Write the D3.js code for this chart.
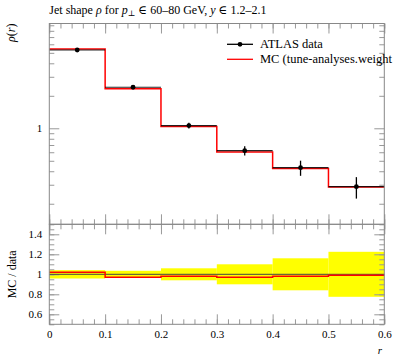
<!DOCTYPE html>
<html><head><meta charset="utf-8">
<script src="https://cdn.jsdelivr.net/npm/d3@7"></script>
<style>
body{margin:0;background:#fff;}
svg text{font-family:"Liberation Serif","DejaVu Serif",serif !important;}
</style></head><body>
<svg id="c" width="397" height="358"></svg>
<script>
// ---- data ----
const binEdges = [0, 0.1, 0.2, 0.3, 0.4, 0.5, 0.6];
const dataValues = [5.31, 2.40, 1.06, 0.621, 0.432, 0.288];
const dataRelErr = [0.042, 0.035, 0.06, 0.10, 0.16, 0.225];
const mcRatio = [1.02, 0.97, 0.98, 0.97, 0.98, 0.99];
const xMajorTicks = [0, 0.1, 0.2, 0.3, 0.4, 0.5, 0.6];
const yMainMajor = [1];
const yMainMinor = [0.2,0.3,0.4,0.5,0.6,0.7,0.8,0.9,2,3,4,5,6,7,8,9];
const yRatioMajor = [0.6, 0.8, 1, 1.2, 1.4];
const legendLabels = ["ATLAS data", "MC (tune-analyses.weight"];

const svg = d3.select("#c");
const L = 49.3, R = 384.3, T = 23.5, M = 224.3, B = 324.3;
const x = d3.scaleLinear([0, 0.6], [L, R]);
const y = d3.scaleLog([0.129, 9.35], [M, T]);
const yr = d3.scaleLinear([0.5, 1.5], [B, M]);

const bins = dataValues.map((v, i) => ({
  x0: binEdges[i], x1: binEdges[i+1], xc: (binEdges[i]+binEdges[i+1])/2,
  v, e: v*dataRelErr[i], re: dataRelErr[i], mc: v*mcRatio[i], r: mcRatio[i]
}));

const tickCol = "#999", frameCol = "#888";
const fmt = d => d === 0 ? "0" : (d === 1 ? "1" : d.toFixed(1));
const minorX = d3.range(0, 0.6001, 0.02).map(d => +d.toFixed(2));
const minorR = d3.range(0.5, 1.5001, 0.05).map(d => +d.toFixed(2));

function styleAxis(g){
  g.attr("font-family", "Liberation Serif").attr("font-size", 11);
  g.select(".domain").remove();
  g.selectAll(".tick line").attr("stroke", tickCol);
  g.selectAll("text").attr("fill", "#000");
}
function addAxis(axis, tx, ty){
  svg.append("g").attr("transform", `translate(${tx},${ty})`).call(axis).call(styleAxis);
}

// ---- ratio band ----
svg.append("g").selectAll("rect").data(bins).join("rect")
  .attr("x", d => x(d.x0)).attr("width", d => x(d.x1) - x(d.x0))
  .attr("y", d => yr(1 + d.re)).attr("height", d => yr(1 - d.re) - yr(1 + d.re))
  .attr("fill", "#ffff00");

// ---- axes (ticks) ----
[[T, 1], [M, -1]].forEach(([yy, dir]) => {
  addAxis(d3.axisBottom(x).tickValues(minorX).tickSize(dir > 0 ? 5 : -5).tickFormat(""), 0, yy);
  addAxis(d3.axisBottom(x).tickValues(xMajorTicks).tickSize(dir > 0 ? 10 : -10).tickFormat(""), 0, yy);
});
addAxis(d3.axisBottom(x).tickValues(minorX).tickSize(5).tickFormat(""), 0, M);
addAxis(d3.axisBottom(x).tickValues(xMajorTicks).tickSize(10).tickFormat(""), 0, M);
addAxis(d3.axisBottom(x).tickValues(minorX).tickSize(-5).tickFormat(""), 0, B);
addAxis(d3.axisBottom(x).tickValues(xMajorTicks).tickSize(-10).tickPadding(6).tickFormat(fmt), 0, B);

addAxis(d3.axisLeft(y).tickValues(yMainMinor).tickSize(-5).tickFormat(""), L, 0);
addAxis(d3.axisLeft(y).tickValues(yMainMajor).tickSize(-10).tickPadding(7).tickFormat(fmt), L, 0);
addAxis(d3.axisRight(y).tickValues(yMainMinor).tickSize(-5).tickFormat(""), R, 0);
addAxis(d3.axisRight(y).tickValues(yMainMajor).tickSize(-10).tickFormat(""), R, 0);
addAxis(d3.axisLeft(yr).tickValues(minorR).tickSize(-5).tickFormat(""), L, 0);
addAxis(d3.axisLeft(yr).tickValues(yRatioMajor).tickSize(-10).tickPadding(7).tickFormat(fmt), L, 0);
addAxis(d3.axisRight(yr).tickValues(minorR).tickSize(-5).tickFormat(""), R, 0);
addAxis(d3.axisRight(yr).tickValues(yRatioMajor).tickSize(-10).tickFormat(""), R, 0);

// ---- ratio lines ----
svg.append("line").attr("x1", L).attr("x2", R).attr("y1", yr(1)).attr("y2", yr(1))
  .attr("stroke", "#444").attr("stroke-width", 1);
const stepR = [];
bins.forEach(d => { stepR.push([x(d.x0), yr(d.r)]); stepR.push([x(d.x1), yr(d.r)]); });
svg.append("path").attr("d", d3.line()(stepR)).attr("fill", "none")
  .attr("stroke", "#ff0000").attr("stroke-width", 1.5);

// ---- main MC histogram ----
const stepM = [];
bins.forEach(d => { stepM.push([x(d.x0), y(d.mc)]); stepM.push([x(d.x1), y(d.mc)]); });
svg.append("path").attr("d", d3.line()(stepM)).attr("fill", "none")
  .attr("stroke", "#ff0000").attr("stroke-width", 1.5);

// ---- data ----
const dg = svg.append("g");
dg.selectAll("line.h").data(bins).join("line").attr("class", "h")
  .attr("x1", d => x(d.x0)).attr("x2", d => x(d.x1))
  .attr("y1", d => y(d.v)).attr("y2", d => y(d.v))
  .attr("stroke", "#000").attr("stroke-width", 1.2).attr("stroke-opacity", 0.85);
dg.selectAll("line.v").data(bins).join("line").attr("class", "v")
  .attr("x1", d => x(d.xc)).attr("x2", d => x(d.xc))
  .attr("y1", d => y(d.v - d.e)).attr("y2", d => y(d.v + d.e))
  .attr("stroke", "#000").attr("stroke-width", 1.3);
dg.selectAll("circle").data(bins).join("circle")
  .attr("cx", d => x(d.xc)).attr("cy", d => y(d.v)).attr("r", 2.4).attr("fill", "#000");

// ---- frames ----
svg.append("rect").attr("x", L).attr("y", T).attr("width", R - L).attr("height", M - T)
  .attr("fill", "none").attr("stroke", frameCol).attr("stroke-width", 1);
svg.append("rect").attr("x", L).attr("y", M).attr("width", R - L).attr("height", B - M)
  .attr("fill", "none").attr("stroke", frameCol).attr("stroke-width", 1);

// ---- legend ----
const lx0 = 227, lx1 = 253, ly = [44.3, 59.3];
svg.append("line").attr("x1", lx0).attr("x2", lx1).attr("y1", ly[0]).attr("y2", ly[0]).attr("stroke", "#000").attr("stroke-width", 1.3);
svg.append("circle").attr("cx", (lx0 + lx1) / 2).attr("cy", ly[0]).attr("r", 2.4).attr("fill", "#000");
svg.append("line").attr("x1", lx0).attr("x2", lx1).attr("y1", ly[1]).attr("y2", ly[1]).attr("stroke", "#ff0000").attr("stroke-width", 1.3);
legendLabels.forEach((t, i) => {
  svg.append("text").attr("x", 260).attr("y", ly[i] + 4).attr("font-size", "12.5px").text(t);
});

// ---- titles ----
svg.append("text").attr("x", L).attr("y", 13.5).attr("font-size", "12px")
  .html('Jet shape <tspan font-style="italic">ρ</tspan> for <tspan font-style="italic">p</tspan><tspan font-size="8px" dy="2">⊥</tspan><tspan dy="-2"> ∈ 60–80 GeV, </tspan><tspan font-style="italic">y</tspan> ∈ 1.2–2.1');
svg.append("text").attr("transform", `translate(15,${T}) rotate(-90)`).attr("text-anchor", "end")
  .attr("font-size", "12px").html('<tspan font-style="italic">ρ</tspan>(<tspan font-style="italic">r</tspan>)');
svg.append("text").attr("transform", `translate(16,${(M + B) / 2}) rotate(-90)`).attr("text-anchor", "middle")
  .attr("font-size", "12px").text("MC / data");
svg.append("text").attr("x", 382).attr("y", 354).attr("text-anchor", "end")
  .attr("font-size", "11px").attr("font-style", "italic").text("r");
</script>
</body></html>
